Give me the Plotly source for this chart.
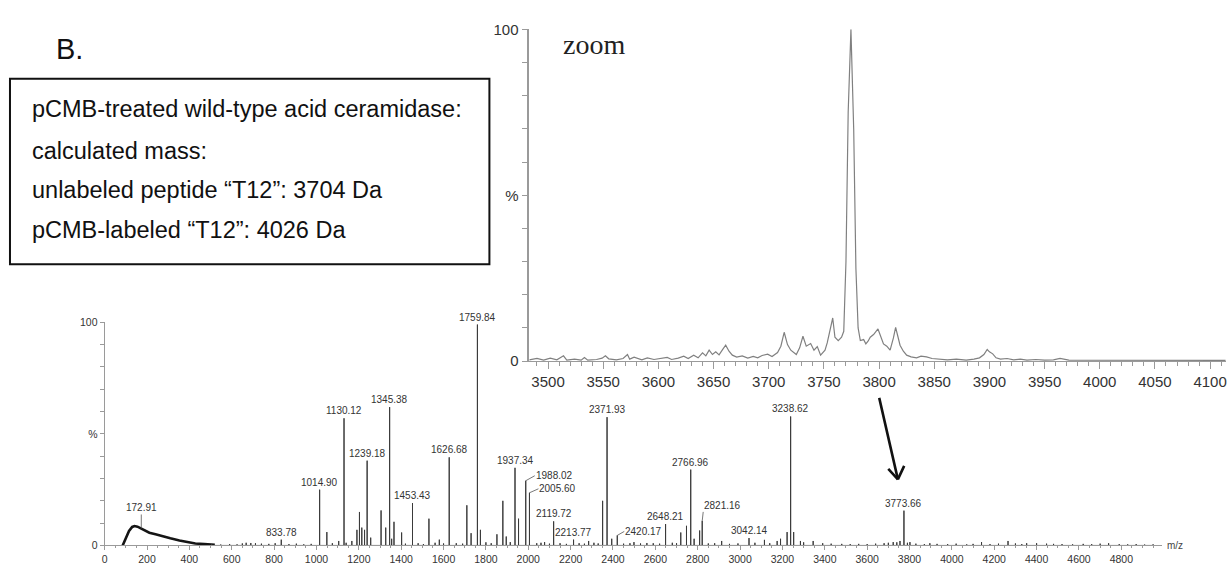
import plotly.graph_objects as go

W, H = 1227, 568

# ---------------- data: full spectrum (m/z, relative intensity %) ----------------
hump_mz = [85, 100, 115, 130, 141, 155, 172.91, 190, 211, 240, 273, 310, 353, 390, 428, 470, 520]
hump_pct = [0, 3.5, 6.5, 8.3, 8.7, 8.4, 7.6, 6.6, 5.7, 5.0, 4.3, 3.2, 2.2, 1.5, 0.9, 0.6, 0.3]

label_mz = [833.78, 1014.90, 1130.12, 1239.18, 1345.38, 1453.43, 1626.68, 1759.84, 1937.34, 1988.02,
            2005.60, 2119.72, 2213.77, 2371.93, 2420.17, 2648.21, 2766.96, 2821.16, 3042.14, 3238.62,
            3773.66]
label_pct = [2.6, 25, 57, 38, 62, 19, 39.5, 99, 34.8, 29,
             23.6, 10.8, 2.6, 57.5, 4.5, 9.6, 34, 11, 3.3, 57.8,
             15.6]

minor_mz = [668, 1049, 1105, 1167, 1191, 1203, 1214, 1227, 1256, 1305,
            1327, 1355, 1366, 1402, 1531, 1580, 1710, 1730, 1774, 1852,
            1880, 1896, 1954, 2077, 2285, 2351, 2394, 2499, 2720, 2747,
            2783, 2809, 2913, 3115, 3175, 3191, 3222, 3253, 3285, 3345,
            3723, 3755, 3802, 3896, 4140, 4265, 4353, 4447]
minor_pct = [1.2, 6, 2, 2, 7, 15, 8, 7, 3.5, 15.7,
             8, 3, 10.6, 5.8, 12, 2.6, 18, 5.5, 7, 5,
             20, 4, 12, 1.5, 2, 20, 3, 1.5, 5.8, 8.8,
             3, 6.7, 2, 2.5, 2, 3, 6, 6, 2, 2,
             1.5, 2, 1.5, 1, 1.5, 2, 1, 0.8]

noise_mz = [505, 548, 590, 625, 650, 690, 712, 740, 775, 805,
            870, 905, 940, 975, 1075, 1140, 1420, 1480, 1505, 1560,
            1600, 1660, 1690, 1800, 1825, 1915, 2040, 2060, 2100, 2150,
            2180, 2240, 2265, 2310, 2330, 2450, 2480, 2530, 2560, 2590,
            2620, 2680, 2700, 2850, 2880, 2950, 2990, 3070, 3140, 3300,
            3390, 3430, 3480, 3520, 3560, 3600, 3640, 3680, 3700, 3740,
            3790, 3830, 3870, 3930, 3980, 4020, 4070, 4100, 4180, 4220,
            4300, 4330, 4400, 4480, 4520, 4570, 4620, 4660, 4700, 4740,
            4790, 4830, 4870, 4910, 4950]
noise_pct = [0.5, 0.4, 0.6, 0.5, 0.9, 1.1, 1.0, 0.8, 0.7, 1.0,
             0.6, 0.8, 0.5, 0.7, 1.0, 1.2, 0.8, 1.0, 0.6, 1.2,
             0.9, 1.0, 0.8, 1.4, 1.0, 1.5, 1.0, 1.2, 0.8, 1.0,
             0.7, 1.0, 0.8, 1.2, 0.9, 0.8, 1.0, 0.9, 1.1, 1.0,
             0.8, 1.2, 1.0, 0.9, 1.0, 0.7, 0.9, 1.2, 1.0, 1.4,
             1.0, 0.8, 0.7, 0.6, 0.7, 0.6, 0.8, 1.0, 1.2, 1.4,
             1.2, 0.8, 0.6, 0.7, 0.6, 0.8, 0.5, 0.7, 0.6, 0.8,
             0.9, 0.6, 1.0, 0.7, 0.6, 0.5, 0.7, 0.6, 0.8, 1.0,
             0.6, 0.5, 0.6, 0.4, 0.5]

hump_label_mz = 172.91

# ---------------- data: zoomed spectrum ----------------
zoom_mz = [3483, 3490, 3496, 3502, 3508, 3514, 3517, 3524, 3530, 3533,
           3536, 3544, 3549, 3552, 3555, 3562, 3568, 3572, 3574, 3578,
           3585, 3590, 3596, 3602, 3608, 3612, 3618, 3623, 3627, 3632,
           3636, 3640, 3643, 3646, 3649, 3652, 3655, 3658, 3661, 3664,
           3667, 3671, 3676, 3681, 3686, 3690, 3694, 3699, 3703, 3708,
           3711, 3714, 3717, 3720, 3725, 3728, 3731, 3734, 3738, 3741,
           3744, 3747, 3751, 3753, 3756, 3758, 3760, 3763, 3766, 3768,
           3770, 3772, 3774.5, 3777, 3779, 3781, 3783, 3786, 3788, 3790,
           3792, 3795, 3799, 3802, 3804, 3807, 3810, 3813, 3815, 3817,
           3819, 3822, 3825, 3829, 3834, 3838, 3843, 3848, 3855, 3862,
           3870, 3879, 3886, 3891, 3895, 3898, 3900, 3903, 3906, 3910,
           3916, 3922, 3928, 3934, 3942, 3950, 3958, 3964, 3972, 3985,
           4000, 4020, 4040, 4060, 4080, 4100, 4114]
zoom_pct = [0.4, 0.8, 0.3, 0.9, 0.4, 1.6, 0.3, 0.6, 0.3, 1.1,
            0.3, 0.5, 0.9, 1.6, 0.7, 0.4, 0.8, 2.0, 0.6, 1.2,
            0.4, 1.0, 0.5, 0.8, 1.1, 0.5, 0.9, 1.5, 0.8, 1.8,
            1.0, 2.5, 1.6, 3.3, 2.0, 2.8, 1.9, 3.4, 4.8, 3.0,
            1.8, 1.2, 1.6, 0.9, 1.4, 1.0, 1.7, 2.1, 1.4, 2.6,
            4.5, 8.7, 5.0, 3.3, 2.0, 4.0, 7.5, 4.5, 5.3, 3.3,
            4.4, 1.8, 3.3, 5.5, 9.7, 13.0, 7.2, 6.2, 7.2, 9.0,
            30, 75, 100, 70, 28, 10, 6.2, 6.5, 5.2, 6.0,
            7.2, 8.0, 9.7, 7.0, 5.2, 4.5, 3.3, 7.0, 10.2, 7.5,
            4.8, 3.0, 1.8, 1.3, 1.0, 1.5, 1.3, 0.8, 0.6, 0.4,
            0.6, 0.3, 0.6, 1.0, 2.0, 3.5, 2.8, 2.2, 1.0, 0.6,
            0.8, 0.4, 0.6, 0.3, 0.5, 0.3, 0.4, 0.8, 0.3, 0.3,
            0.2, 0.3, 0.2, 0.3, 0.2, 0.3, 0.2]

info_lines = ["pCMB-treated wild-type acid ceramidase:",
              "calculated mass:",
              "unlabeled peptide \u201cT12\u201d: 3704 Da",
              "pCMB-labeled \u201cT12\u201d: 4026 Da"]

# ---------------- layout geometry (pixels) ----------------
def fx(px):
    return px / W

def fy(py):
    return 1 - py / H

MAIN_X0, MAIN_X1 = 102, 1163
MAIN_Y0, MAIN_Y1 = 553, 323
MAIN_RANGE = [0, 4993]
TOP_X0 = 528
TOP_Y0, TOP_Y1 = 363, 21
TOP_RANGE = [3483, 4114.4]

# ---------------- build stick spectrum ----------------
pairs = sorted(list(zip(label_mz, label_pct)) + list(zip(minor_mz, minor_pct)) + list(zip(noise_mz, noise_pct)))
stick_x, stick_y = [], []
for m, h in pairs:
    stick_x += [m, m, m]
    stick_y += [0, h, 0]

fig = go.Figure()
fig.add_trace(go.Scatter(x=hump_mz, y=hump_pct, mode="lines",
                         line=dict(color="#151515", width=2.6), xaxis="x", yaxis="y",
                         hoverinfo="skip", showlegend=False))
fig.add_trace(go.Scatter(x=stick_x, y=stick_y, mode="lines",
                         line=dict(color="#3a3a3a", width=1), xaxis="x", yaxis="y",
                         hoverinfo="skip", showlegend=False))
fig.add_trace(go.Scatter(x=zoom_mz, y=zoom_pct, mode="lines",
                         line=dict(color="#808080", width=1.2), xaxis="x2", yaxis="y2",
                         hoverinfo="skip", showlegend=False))

lab_font = dict(family="Liberation Sans, Arial, sans-serif", size=10, color="#333")
ann = []
leader = {
    1988.02: dict(ax=9, ay=-5, xanchor="left", yanchor="middle"),
    2005.60: dict(ax=9, ay=-4, xanchor="left", yanchor="middle"),
    2420.17: dict(ax=7, ay=-4, xanchor="left", yanchor="middle"),
    2821.16: dict(ax=1, ay=-9, xanchor="left", yanchor="bottom"),
}
for m, h in zip(label_mz, label_pct):
    txt = f"{m:.2f}"
    if m in leader:
        s = leader[m]
        ann.append(dict(x=m, y=h, xref="x", yref="y", text=txt, showarrow=True,
                        arrowhead=0, arrowwidth=0.8, arrowcolor="#555", standoff=0,
                        ax=s["ax"], ay=s["ay"], xanchor=s["xanchor"], yanchor=s["yanchor"],
                        font=lab_font, borderpad=0))
    else:
        ann.append(dict(x=m, y=h, xref="x", yref="y", text=txt, showarrow=False,
                        yanchor="bottom", yshift=0, font=lab_font))
# 172.91 label on the low-mass hump with vertical leader
hump_top = hump_pct[hump_mz.index(hump_label_mz)]
ann.append(dict(x=hump_label_mz, y=hump_top, xref="x", yref="y", text=f"{hump_label_mz:.2f}",
                showarrow=True, arrowhead=0, arrowwidth=0.8, arrowcolor="#555", standoff=0,
                ax=0, ay=-14, yanchor="bottom", font=lab_font, borderpad=0))

# m/z axis label
ann.append(dict(x=fx(1166), y=fy(553), xref="paper", yref="paper", text="m/z", showarrow=False,
                xanchor="left", yanchor="middle", font=dict(family="Liberation Sans, Arial", size=10, color="#444")))

# zoom label
ann.append(dict(x=fx(593), y=fy(37), xref="paper", yref="paper", text="zoom", showarrow=False,
                xanchor="center", yanchor="middle",
                font=dict(family="Liberation Serif, Times New Roman, serif", size=28, color="#222")))

# Arrow from zoom panel to the 3773.66 peak (shaft + open V head)
tip_x, tip_y = 3745, 29.6
for axo, ayo in [(-19, -83), (-11, -12), (7, -15)]:
    ann.append(dict(x=tip_x, y=tip_y, xref="x", yref="y", text="", showarrow=True,
                    arrowhead=0, arrowwidth=2.6, arrowcolor="#111", standoff=0,
                    ax=axo, ay=ayo))

# "B." panel letter
ann.append(dict(x=fx(51), y=fy(41), xref="paper", yref="paper", text="B.", showarrow=False,
                xanchor="left", yanchor="middle",
                font=dict(family="Liberation Sans, Arial", size=29, color="#111")))

# info box text
line_y = [103, 146, 187, 228]
for t, py in zip(info_lines, line_y):
    ann.append(dict(x=fx(27), y=fy(py), xref="paper", yref="paper", text=t, showarrow=False,
                    xanchor="left", yanchor="middle",
                    font=dict(family="Liberation Sans, Arial", size=23.5, color="#111")))

shapes = [dict(type="rect", xref="paper", yref="paper", x0=fx(7), x1=fx(488), y0=fy(263), y1=fy(72),
               line=dict(color="#111", width=2), fillcolor="rgba(0,0,0,0)")]

axis_col = "#9a9a9a"
tick_font_main = dict(family="Liberation Sans, Arial", size=10.5, color="#333")
tick_font_top = dict(family="Liberation Sans, Arial", size=15, color="#333")

pct_vals = [0, 10, 20, 30, 40, 50, 60, 70, 80, 90, 100]
pct_text = ["0", "", "", "", "", "%", "", "", "", "", "100"]

fig.update_layout(
    width=W, height=H,
    margin=dict(l=0, r=0, t=0, b=0),
    paper_bgcolor="white", plot_bgcolor="rgba(0,0,0,0)",
    showlegend=False,
    annotations=ann, shapes=shapes,
    xaxis=dict(domain=[fx(MAIN_X0), fx(MAIN_X1)], range=MAIN_RANGE, anchor="y",
               showgrid=False, zeroline=False, showline=True, linecolor=axis_col, linewidth=1,
               ticks="outside", ticklen=4, tickcolor=axis_col, tick0=0, dtick=200,
               minor=dict(ticks="outside", ticklen=2, dtick=50, tickcolor=axis_col),
               tickfont=tick_font_main, ticklabelstandoff=0),
    yaxis=dict(domain=[fy(MAIN_Y0), fy(MAIN_Y1)], range=[0, 100], anchor="x",
               showgrid=False, zeroline=False, showline=True, linecolor=axis_col, linewidth=1,
               ticks="outside", ticklen=4, tickcolor=axis_col, tickmode="array",
               tickvals=pct_vals, ticktext=pct_text, tickfont=tick_font_main),
    xaxis2=dict(domain=[fx(TOP_X0), 1.0], range=TOP_RANGE, anchor="y2",
                showgrid=False, zeroline=False, showline=True, linecolor=axis_col, linewidth=1.2,
                ticks="outside", ticklen=7, tickcolor=axis_col, tick0=3500, dtick=50,
                minor=dict(ticks="outside", ticklen=4, dtick=10, tickcolor=axis_col),
                tickfont=tick_font_top, ticklabeloverflow="allow"),
    yaxis2=dict(domain=[fy(TOP_Y0), fy(TOP_Y1)], range=[0, 100], anchor="x2",
                showgrid=False, zeroline=False, showline=True, linecolor=axis_col, linewidth=1.5,
                ticks="outside", ticklen=6, tickcolor=axis_col, tickmode="array",
                tickvals=pct_vals, ticktext=pct_text, tickfont=tick_font_top),
)

fig.write_html("out.html")
